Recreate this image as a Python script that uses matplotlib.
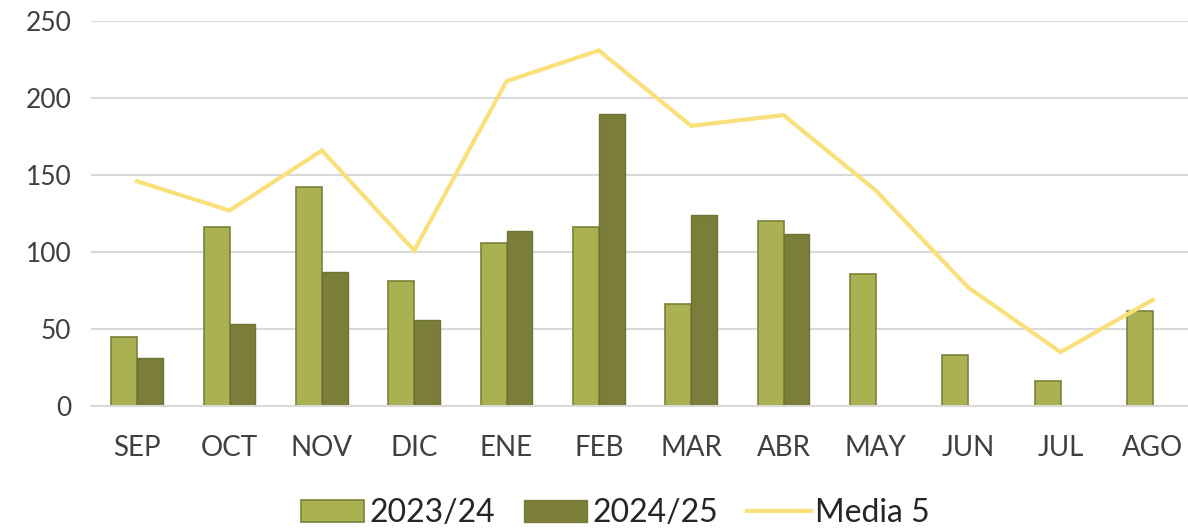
import numpy as np
import matplotlib.pyplot as plt
from matplotlib.patches import Patch
from matplotlib.lines import Line2D

months = ['SEP', 'OCT', 'NOV', 'DIC', 'ENE', 'FEB', 'MAR', 'ABR', 'MAY', 'JUN', 'JUL', 'AGO']
s2324 = [45, 116, 142, 81, 106, 116, 66, 120, 86, 33, 16, 62]
s2425 = [31, 53, 87, 56, 114, 190, 124, 112, np.nan, np.nan, np.nan, np.nan]
media5 = [146, 127, 166, 101, 211, 231, 182, 189, 140, 77, 35, 69]

plt.rcParams['font.family'] = ['Lato', 'DejaVu Sans']

fig = plt.figure(figsize=(11.88, 5.30), dpi=100)
ax = fig.add_axes([0.0766, 0.234, 0.9327, 0.726])

x = np.arange(len(months))
w = 0.28
light = '#AAB152'
dark = '#7A7E38'
ax.bar(x - w / 2, s2324, w, color=light, edgecolor='#7C8138', linewidth=1.2, zorder=2)
ax.bar(x + w / 2, s2425, w, color=dark, edgecolor='#6F7333', linewidth=1.0, zorder=2)
ax.plot(x, media5, color='#F9E07B', linewidth=3, zorder=3, solid_joinstyle='miter')

ax.set_xlim(-0.5, 11.5)
ax.set_ylim(0, 250)
ax.set_yticks(range(0, 251, 50))
ax.set_xticks(x)
ax.set_xticklabels(months)
ax.grid(axis='y', color='#D9D9D9', linewidth=1.5, zorder=0)
ax.set_axisbelow(True)
for s in ['top', 'right', 'left']:
    ax.spines[s].set_visible(False)
ax.spines['bottom'].set_color('#D9D9D9')
ax.spines['bottom'].set_linewidth(1.5)
ax.tick_params(axis='both', length=0, colors='#404040')
ax.tick_params(axis='x', pad=21, labelsize=20)
ax.tick_params(axis='y', pad=14, labelsize=19)

handles = [Patch(facecolor=light, edgecolor='#7C8138', linewidth=1.2),
           Patch(facecolor=dark, edgecolor=dark),
           Line2D([0], [0], color='#F9E07B', linewidth=3)]
fig.legend(handles, ['2023/24', '2024/25', 'Media 5'], loc='center', bbox_to_anchor=(0.518, 0.032),
           ncol=3, frameon=False, fontsize=23, handlelength=2.0, handleheight=0.7,
           handletextpad=0.15, columnspacing=0.9, labelcolor='#262626')

fig.savefig('out.png', dpi=100)
